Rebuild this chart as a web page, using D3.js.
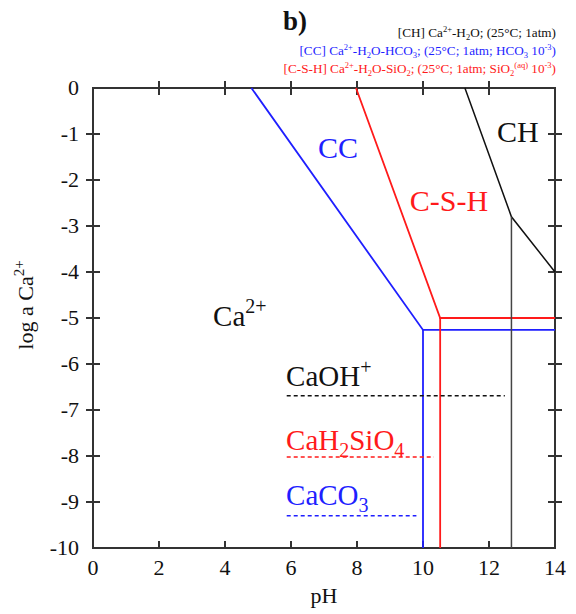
<!DOCTYPE html>
<html>
<head>
<meta charset="utf-8">
<script src="https://cdn.jsdelivr.net/npm/d3@7"></script>
<style>
  html, body { margin: 0; padding: 0; background: #fff; }
  svg { display: block; font-family: "Liberation Serif", "Times New Roman", serif; }
</style>
</head>
<body>
<svg id="chart" width="576" height="614"></svg>
<script>
// Stability boundaries in (pH, log a Ca2+)
const ccBoundary   = [[4.8, 0], [10.0, -5.26], [14, -5.26]];
const ccVertical   = [[10.0, -5.26], [10.0, -10]];
const cshBoundary  = [[7.97, 0], [10.52, -5.0], [14, -5.0]];
const cshVertical  = [[10.52, -5.0], [10.52, -10]];
const chBoundary   = [[11.27, 0], [12.68, -2.8], [14, -4.0]];
const chVertical   = [[12.68, -2.8], [12.68, -10]];

// Aqueous complex levels (dashed): [pH start, pH end, log a]
const caohLevel    = [5.87, 12.48, -6.69];
const cah2sio4Level = [5.87, 10.33, -8.02];
const caco3Level   = [5.87, 9.8, -9.3];

const xTicks = [0, 2, 4, 6, 8, 10, 12, 14];
const yTicks = [0, -1, -2, -3, -4, -5, -6, -7, -8, -9, -10];

const svg = d3.select("#chart");
const x = d3.scaleLinear().domain([0, 14]).range([93, 555]);
const y = d3.scaleLinear().domain([-10, 0]).range([548, 88]);

const BLUE = "#1f1fff", RED = "#ff1a1a", BLACK = "#111";

// Frame
svg.append("rect")
  .attr("x", x(0)).attr("y", y(0))
  .attr("width", x(14) - x(0)).attr("height", y(-10) - y(0))
  .attr("fill", "none").attr("stroke", "#333").attr("stroke-width", 2);

// Ticks
const inner = xTicks.filter(d => d > 0 && d < 14);
const innerY = yTicks.filter(d => d < 0 && d > -10);
const tickG = svg.append("g").attr("stroke", "#333").attr("stroke-width", 2);
inner.forEach(d => {
  tickG.append("line").attr("x1", x(d)).attr("x2", x(d)).attr("y1", y(-10)).attr("y2", y(-10) - 7);
  tickG.append("line").attr("x1", x(d)).attr("x2", x(d)).attr("y1", y(0) - 7).attr("y2", y(0) + 7);
});
innerY.forEach(d => {
  tickG.append("line").attr("y1", y(d)).attr("y2", y(d)).attr("x1", x(0) - 7).attr("x2", x(0) + 7);
  tickG.append("line").attr("y1", y(d)).attr("y2", y(d)).attr("x1", x(14) - 7).attr("x2", x(14) + 7);
});

// Tick labels
svg.append("g").selectAll("text").data(xTicks).join("text")
  .attr("x", d => x(d)).attr("y", 575)
  .attr("text-anchor", "middle").attr("font-size", 22).attr("fill", "#111")
  .text(d => d);
svg.append("g").selectAll("text").data(yTicks).join("text")
  .attr("x", 79).attr("y", d => y(d) + 7)
  .attr("text-anchor", "end").attr("font-size", 22).attr("fill", "#111")
  .text(d => d === 0 ? "0" : "-" + Math.abs(d));

// Axis titles
svg.append("text").attr("x", x(7)).attr("y", 603)
  .attr("text-anchor", "middle").attr("font-size", 22).attr("fill", "#111").text("pH");
const yt = svg.append("text")
  .attr("transform", "translate(33,305) rotate(-90)")
  .attr("text-anchor", "middle").attr("font-size", 22).attr("fill", "#111");
yt.append("tspan").text("log a Ca");
yt.append("tspan").attr("font-size", 15).attr("dy", -9).text("2+");

// Boundary lines
const line = d3.line().x(d => x(d[0])).y(d => y(d[1]));
function drawLine(data, color, width) {
  svg.append("path").datum(data).attr("d", line)
    .attr("fill", "none").attr("stroke", color).attr("stroke-width", width);
}
drawLine(ccBoundary, BLUE, 1.8);
drawLine(ccVertical, BLUE, 1.8);
drawLine(cshBoundary, RED, 1.8);
drawLine(cshVertical, RED, 1.8);
drawLine(chBoundary, BLACK, 1.5);
drawLine(chVertical, "#444", 1.5);

// Dashed complex levels
function drawDash(level, color) {
  svg.append("line")
    .attr("x1", x(level[0])).attr("x2", x(level[1]))
    .attr("y1", y(level[2])).attr("y2", y(level[2]))
    .attr("stroke", color).attr("stroke-width", 1.5)
    .attr("stroke-dasharray", "4,3");
}
drawDash(caohLevel, BLACK);
drawDash(cah2sio4Level, RED);
drawDash(caco3Level, BLUE);

// Region and species labels
function label(px, py, parts, color, size) {
  const t = svg.append("text").attr("x", x(px)).attr("y", y(py))
    .attr("font-size", size).attr("fill", color);
  let shift = 0;
  parts.forEach(p => {
    const target = p.sup ? -p.sup : (p.sub ? p.sub : 0);
    const ts = t.append("tspan").attr("dy", target - shift).text(p.t);
    if (p.fs) ts.attr("font-size", p.fs);
    shift = target;
  });
  return t;
}
label(6.82, -1.52, [{t: "CC"}], BLUE, 30);
label(12.24, -1.17, [{t: "CH"}], BLACK, 30);
label(9.6, -2.67, [{t: "C-S-H"}], RED, 30);
label(3.64, -5.17, [{t: "Ca"}, {t: "2+", sup: 13, fs: 20}], BLACK, 29);
label(5.85, -6.48, [{t: "CaOH"}, {t: "+", sup: 12, fs: 20}], BLACK, 29);
label(5.85, -7.87, [{t: "CaH"}, {t: "2", sub: 7, fs: 20}, {t: "SiO"}, {t: "4", sub: 7, fs: 20}], RED, 29);
label(5.85, -9.07, [{t: "CaCO"}, {t: "3", sub: 7, fs: 20}], BLUE, 29);

// Title and legend
svg.append("text").attr("x", 295).attr("y", 30)
  .attr("text-anchor", "middle").attr("font-size", 27).attr("font-weight", "bold")
  .attr("fill", "#111").text("b)");

function legendLine(yy, parts, color) {
  const t = svg.append("text").attr("x", 556).attr("y", yy)
    .attr("text-anchor", "end").attr("font-size", 13.2).attr("fill", color);
  let shift = 0;
  parts.forEach(p => {
    const target = p.sup ? -p.sup : (p.sub ? p.sub : 0);
    const ts = t.append("tspan").attr("dy", target - shift).text(p.t);
    if (p.sup || p.sub) ts.attr("font-size", 8.5);
    shift = target;
  });
}
legendLine(37, [
  {t: "[CH] Ca"}, {t: "2+", sup: 5.5}, {t: "-H"}, {t: "2", sub: 3}, {t: "O; (25°C; 1atm)"}
], BLACK);
legendLine(55, [
  {t: "[CC] Ca"}, {t: "2+", sup: 5.5}, {t: "-H"}, {t: "2", sub: 3}, {t: "O-HCO"}, {t: "3", sub: 3},
  {t: "; (25°C; 1atm; HCO"}, {t: "3", sub: 3}, {t: " 10"}, {t: "-3", sup: 5.5}, {t: ")"}
], BLUE);
legendLine(73, [
  {t: "[C-S-H] Ca"}, {t: "2+", sup: 5.5}, {t: "-H"}, {t: "2", sub: 3}, {t: "O-SiO"}, {t: "2", sub: 3},
  {t: "; (25°C; 1atm; SiO"}, {t: "2", sub: 3}, {t: "(aq)", sup: 5.5}, {t: " 10"}, {t: "-3", sup: 5.5}, {t: ")"}
], RED);
</script>
</body>
</html>
